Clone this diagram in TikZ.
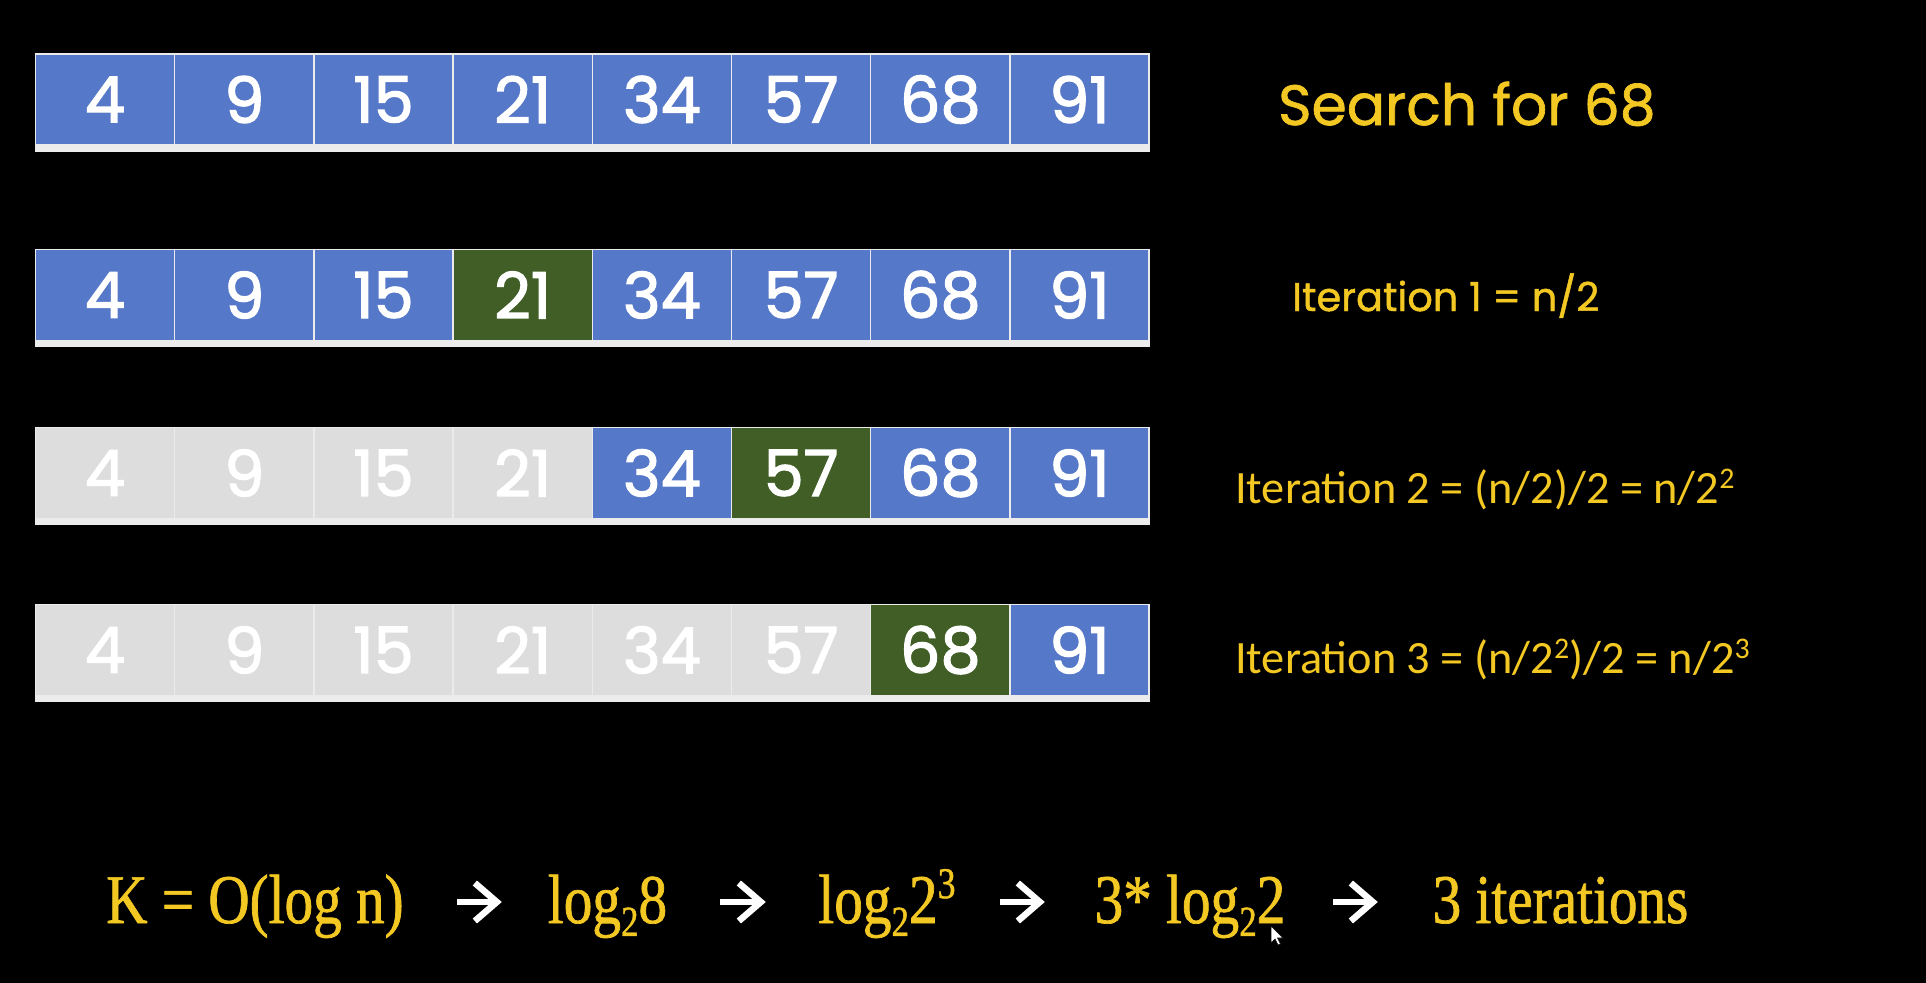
\documentclass[tikz,border=0pt]{standalone}
\usepackage{fontspec}
\setmainfont{Poppins}
\newfontfamily\numf[FakeBold=2]{Poppins}
\newfontfamily\labf[FakeBold=1.2]{Poppins}
\newfontfamily\calib{Carlito}
\newfontfamily\cambr[FakeStretch=0.82,FakeBold=1]{Liberation Serif}
\usetikzlibrary{arrows.meta}
\definecolor{cblue}{RGB}{86,120,200}
\definecolor{cgreen}{RGB}{64,94,38}
\definecolor{cgray}{RGB}{221,221,221}
\definecolor{cyel}{RGB}{243,200,35}
\definecolor{cbar}{RGB}{236,236,236}
\newcommand{\lsub}[1]{\raisebox{-13pt}{\fontsize{43}{43}\selectfont #1}}
\newcommand{\lsup}[1]{\raisebox{25pt}{\fontsize{44}{44}\selectfont #1}}
\newcommand{\csup}[1]{\raisebox{15pt}{\fontsize{30}{30}\selectfont #1}}
\begin{document}
\begin{tikzpicture}[x=1bp,y=-1bp,
  cell/.style={draw=white!92!black, line width=1.4bp, minimum width=139.2bp, minimum height=91bp, inner sep=0pt, text=white, font=\numf\fontsize{64}{64}\selectfont},
  ytext/.style={text=cyel, inner sep=0pt, anchor=base west},
  fml/.style={text=cyel, inner sep=0pt, text height=52bp, text depth=10bp, font=\cambr\fontsize{70}{70}\selectfont},
  arr/.style={draw=white, line width=6.5bp, -{Straight Barb[length=22bp,width=38bp]}},
  bar/.style={fill=cbar}
]
\fill[black] (-5,-5) rectangle (1931,987);

% row 1
\foreach \v/\c [count=\i] in {4/cblue,9/cblue,15/cblue,21/cblue,34/cblue,57/cblue,68/cblue,91/cblue}
  \node[cell,fill=\c] (a\i) at ({35.5+139.2*(\i-0.5)},99.5) {\v};
% row 2
\foreach \v/\c [count=\i] in {4/cblue,9/cblue,15/cblue,21/cgreen,34/cblue,57/cblue,68/cblue,91/cblue}
  \node[cell,fill=\c] (b\i) at ({35.5+139.2*(\i-0.5)},295) {\v};
% row 3
\foreach \v/\c [count=\i] in {4/cgray,9/cgray,15/cgray,21/cgray,34/cblue,57/cgreen,68/cblue,91/cblue}
  \node[cell,fill=\c] (c\i) at ({35.5+139.2*(\i-0.5)},473) {\v};
% row 4
\foreach \v/\c [count=\i] in {4/cgray,9/cgray,15/cgray,21/cgray,34/cgray,57/cgray,68/cgreen,91/cblue}
  \node[cell,fill=\c] (d\i) at ({35.5+139.2*(\i-0.5)},650) {\v};

\foreach \r in {a,b,c,d}
  \fill[bar] (\r1.south west) rectangle ([yshift=-6bp]\r8.south east);

\node[ytext, font=\labf\fontsize{57}{57}\selectfont] (search) at (1278,125) {Search for 68};
\node[ytext, font=\labf\fontsize{40}{40}\selectfont] (it1) at (1292,311) {Iteration 1 = n/2};
\node[ytext, font=\calib\fontsize{46.5}{46.5}\selectfont] (it2) at (1235,503) {Iteration 2 = (n/2)/2 = n/2\csup{2}};
\node[ytext, font=\calib\fontsize{46.5}{46.5}\selectfont] (it3) at (1235,673) {Iteration 3 = (n/2\csup{2})/2 = n/2\csup{3}};

\node[fml, minimum width=294bp] (f1) at (255,902) {K = O(log n)};
\node[fml, minimum width=127bp] (f2) at (607.5,902) {log\lsub{2}8};
\node[fml, minimum width=154bp] (f3) at (887,902) {log\lsub{2}2\lsup{3}};
\node[fml, minimum width=196bp] (f4) at (1190,902) {3* log\lsub{2}2};
\node[fml, minimum width=271bp] (f5) at (1560.5,902) {3 iterations};

\draw[arr, shorten <=53bp, shorten >=42bp] (f1.east) -- (f2.west);
\draw[arr, shorten <=49bp, shorten >=44bp] (f2.east) -- (f3.west);
\draw[arr, shorten <=36bp, shorten >=47bp] (f3.east) -- (f4.west);
\draw[arr, shorten <=45bp, shorten >=47bp] (f4.east) -- (f5.west);

% mouse pointer
\filldraw[fill=white, draw=black, line width=0.6bp] (1271,926) -- (1271,943) -- (1275,939) -- (1278,945) -- (1280.5,944) -- (1277.5,938) -- (1283,938) -- cycle;

\pgfresetboundingbox
\useasboundingbox (0,0) rectangle (1926,982);
\end{tikzpicture}
\end{document}
